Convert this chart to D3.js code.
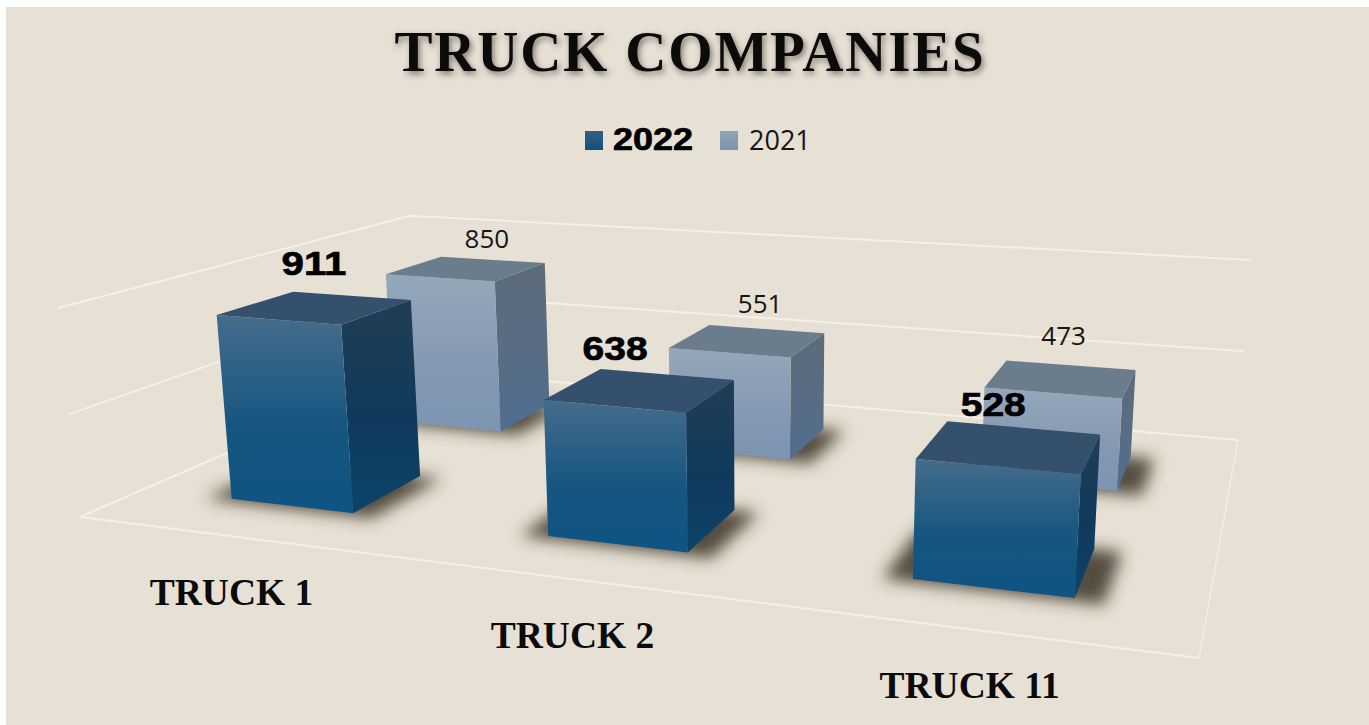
<!DOCTYPE html>
<html>
<head>
<meta charset="utf-8">
<title>Truck companies</title>
<script src="https://cdn.jsdelivr.net/npm/d3@7/dist/d3.min.js"></script>
<style>
  html, body { margin: 0; background: #fff; }
  svg { display: block; }
  .serif { font-family: "Liberation Serif", serif; font-weight: 700; fill: #0b0b0b; }
  .bold { font-family: "Liberation Sans", Arial, sans-serif; font-weight: 700; fill: #000; stroke: #000; stroke-width: .7px; }
  .plain { font-family: "Open Sans", sans-serif; font-size: 26px; fill: #151515; }
</style>
</head>
<body>
<div id="chart"></div>
<script>
const title = "TRUCK COMPANIES"
const categories = ["TRUCK 1", "TRUCK 2", "TRUCK 11"]
const seriesNames = ["2022", "2021"]
const values2022 = [911, 638, 528]
const values2021 = [850, 551, 473]
const valueTicks = [0, 500, 1000]

const W = 1369, H = 725

// where the plot box sits on the page: floor corners, then wall tops used for the vertical direction
const floor = {fl: [80, 517], fr: [1199, 658], br: [1238, 440], bl: [418, 370]}
const wallTop = {fl: [58, 308], br: [1251, 258]}

// hand placed data labels, relative to the centre of each bar top
const nudge = {
	"2022": [[-2, -32], [-26, -30], [-17, -30]],
	"2021": [[20, -21], [12, -28], [2, -34]]
}

// floor homography, unit square to the floor quad
const dx1 = floor.fr[0] - floor.br[0], dx2 = floor.bl[0] - floor.br[0]
const dy1 = floor.fr[1] - floor.br[1], dy2 = floor.bl[1] - floor.br[1]
const sx = floor.fl[0] - floor.fr[0] + floor.br[0] - floor.bl[0]
const sy = floor.fl[1] - floor.fr[1] + floor.br[1] - floor.bl[1]
const det = dx1 * dy2 - dx2 * dy1
const g = (sx * dy2 - dx2 * sy) / det
const h = (dx1 * sy - sx * dy1) / det
const a = floor.fr[0] - floor.fl[0] + g * floor.fr[0]
const b = floor.bl[0] - floor.fl[0] + h * floor.bl[0]
const c = floor.fl[0]
const d = floor.fr[1] - floor.fl[1] + g * floor.fr[1]
const e = floor.bl[1] - floor.fl[1] + h * floor.bl[1]
const f = floor.fl[1]

// the vertical column of the camera matrix, from the two wall tops
const brW = 1 + g + h, brX = a + b + c
const cw = ((wallTop.fl[0] - c) - (wallTop.br[0] * brW - brX)) / (wallTop.br[0] - wallTop.fl[0])
const cx = wallTop.fl[0] * (1 + cw) - c
const cy = wallTop.fl[1] * (1 + cw) - f

function project(u, v, z) {
	const w = g * u + h * v + 1 + cw * z
	return [(a * u + b * v + c + cx * z) / w, (d * u + e * v + f + cy * z) / w]
}

const uScale = d3.scaleBand().domain(categories).range([-0.0005, 0.997]).paddingInner(0.6).paddingOuter(0.3)
const vScale = d3.scaleBand().domain(seriesNames).range([-0.0097, 0.9903]).paddingInner(0.587).paddingOuter(0.3255)
const zScale = d3.scaleLinear().domain([0, 1000]).range([0, 1])

const rows = [
	{name: "2021", values: values2021},
	{name: "2022", values: values2022}
]
const bars = rows.flatMap(r => r.values.map((value, i) => ({
	series: r.name,
	category: categories[i],
	value: value,
	i: i,
	u0: uScale(categories[i]),
	u1: uScale(categories[i]) + uScale.bandwidth(),
	v0: vScale(r.name),
	v1: vScale(r.name) + vScale.bandwidth(),
	z: zScale(value)
})))

const closed = d3.line().curve(d3.curveLinearClosed)
const open = d3.line()

const svg = d3.select("#chart").append("svg")
	.attr("width", W)
	.attr("height", H)

const defs = svg.append("defs")

function gradient(id, stops) {
	const grad = defs.append("linearGradient")
		.attr("id", id)
		.attr("x1", 0).attr("y1", 0).attr("x2", 0).attr("y2", 1)
	stops.forEach(s => grad.append("stop").attr("offset", s[0]).attr("stop-color", s[1]))
}

gradient("front2022", [[0, "#456c8b"], [0.55, "#165680"], [1, "#0f5484"]])
gradient("right2022", [[0, "#213d55"], [0.55, "#0f3a5c"], [1, "#0c4369"]])
gradient("front2021", [[0, "#95a7ba"], [0.6, "#8498b1"], [1, "#7d95b3"]])
gradient("right2021", [[0, "#5d6b7a"], [0.6, "#586d85"], [1, "#4f6d92"]])
gradient("swatch2022", [[0, "#33607f"], [1, "#11507f"]])
gradient("swatch2021", [[0, "#91a4b8"], [1, "#7d93ad"]])

const topColor = {"2022": "#34506c", "2021": "#6b7c8d"}

defs.append("filter")
	.attr("id", "soft")
	.attr("x", "-30%").attr("y", "-40%").attr("width", "160%").attr("height", "180%")
	.append("feGaussianBlur")
	.attr("stdDeviation", 8)

svg.append("rect")
	.attr("x", 6).attr("y", 7)
	.attr("width", W - 6).attr("height", H - 7)
	.attr("fill", "#e7e0d4")

// walls and floor outline
const grid = svg.append("g")
	.attr("fill", "none")
	.attr("stroke", "#f5f1e8")
	.attr("stroke-width", 2)

grid.selectAll("path.wall")
	.data(valueTicks)
	.enter().append("path")
	.attr("class", "wall")
	.attr("d", t => open([project(0, 0, zScale(t)), project(0, 1, zScale(t)), project(1, 1, zScale(t))]))

grid.append("path")
	.attr("d", open([project(0, 0, 0), project(1, 0, 0)]))

grid.append("path")
	.attr("stroke-width", 1.2)
	.attr("d", open([project(1, 0, 0), project(1, 1, 0)]))

// shadows
svg.append("g").selectAll("path")
	.data(bars)
	.enter().append("path")
	.attr("d", s => closed([
		project(s.u0 - 0.024, s.v0 - 0.012, 0),
		project(s.u1 + 0.024, s.v0 - 0.012, 0),
		project(s.u1 + 0.024, s.v1, 0),
		project(s.u0 - 0.024, s.v1, 0)
	]))
	.attr("fill", "#3a3127")
	.attr("fill-opacity", 0.85)
	.attr("filter", "url(#soft)")

// boxes, back row first
const box = svg.append("g").selectAll("g")
	.data(bars)
	.enter().append("g")

box.append("path")
	.attr("d", s => closed([project(s.u1, s.v0, 0), project(s.u1, s.v1, 0), project(s.u1, s.v1, s.z), project(s.u1, s.v0, s.z)]))
	.attr("fill", s => `url(#right${s.series})`)

box.append("path")
	.attr("d", s => closed([project(s.u0, s.v0, 0), project(s.u1, s.v0, 0), project(s.u1, s.v0, s.z), project(s.u0, s.v0, s.z)]))
	.attr("fill", s => `url(#front${s.series})`)

box.append("path")
	.attr("d", s => closed([project(s.u0, s.v0, s.z), project(s.u1, s.v0, s.z), project(s.u1, s.v1, s.z), project(s.u0, s.v1, s.z)]))
	.attr("fill", s => topColor[s.series])

// value labels
svg.append("g").selectAll("text")
	.data(bars)
	.enter().append("text")
	.attr("class", s => s.series === "2022" ? "bold" : "plain")
	.attr("text-anchor", "middle")
	.attr("font-size", s => s.series === "2022" ? 34 : null)
	.attr("textLength", s => s.series === "2022" ? 65 : null)
	.attr("lengthAdjust", "spacingAndGlyphs")
	.attr("x", s => project((s.u0 + s.u1) / 2, (s.v0 + s.v1) / 2, s.z)[0] + nudge[s.series][s.i][0])
	.attr("y", s => project((s.u0 + s.u1) / 2, (s.v0 + s.v1) / 2, s.z)[1] + nudge[s.series][s.i][1])
	.text(s => s.value)

// category labels
svg.append("g").selectAll("text")
	.data(categories)
	.enter().append("text")
	.attr("class", "serif")
	.attr("font-size", 37.5)
	.attr("text-anchor", "middle")
	.attr("x", t => project(uScale(t) + uScale.bandwidth() / 2, 0, 0)[0] - 1)
	.attr("y", t => project(uScale(t) + uScale.bandwidth() / 2, 0, 0)[1] + 69)
	.text(t => t)

svg.append("text")
	.attr("class", "serif")
	.attr("x", 690)
	.attr("y", 71)
	.attr("text-anchor", "middle")
	.attr("font-size", 57)
	.attr("letter-spacing", 1.8)
	.style("filter", "drop-shadow(2px 3px 3px rgba(40,30,20,.55))")
	.text(title)

// legend
const legendX = {"2022": 585, "2021": 720}
const legend = svg.append("g").selectAll("g")
	.data(seriesNames)
	.enter().append("g")
	.attr("transform", s => `translate(${legendX[s]},0)`)

legend.append("rect")
	.attr("y", 131)
	.attr("width", 18)
	.attr("height", 19)
	.attr("fill", s => `url(#swatch${s})`)

legend.append("text")
	.attr("class", s => s === "2022" ? "bold" : "plain")
	.attr("x", s => s === "2022" ? 28 : 29)
	.attr("y", 150)
	.style("font-size", s => s === "2022" ? "31px" : "27px")
	.attr("textLength", s => s === "2022" ? 80 : null)
	.attr("lengthAdjust", "spacingAndGlyphs")
	.text(s => s)
</script>
</body>
</html>
